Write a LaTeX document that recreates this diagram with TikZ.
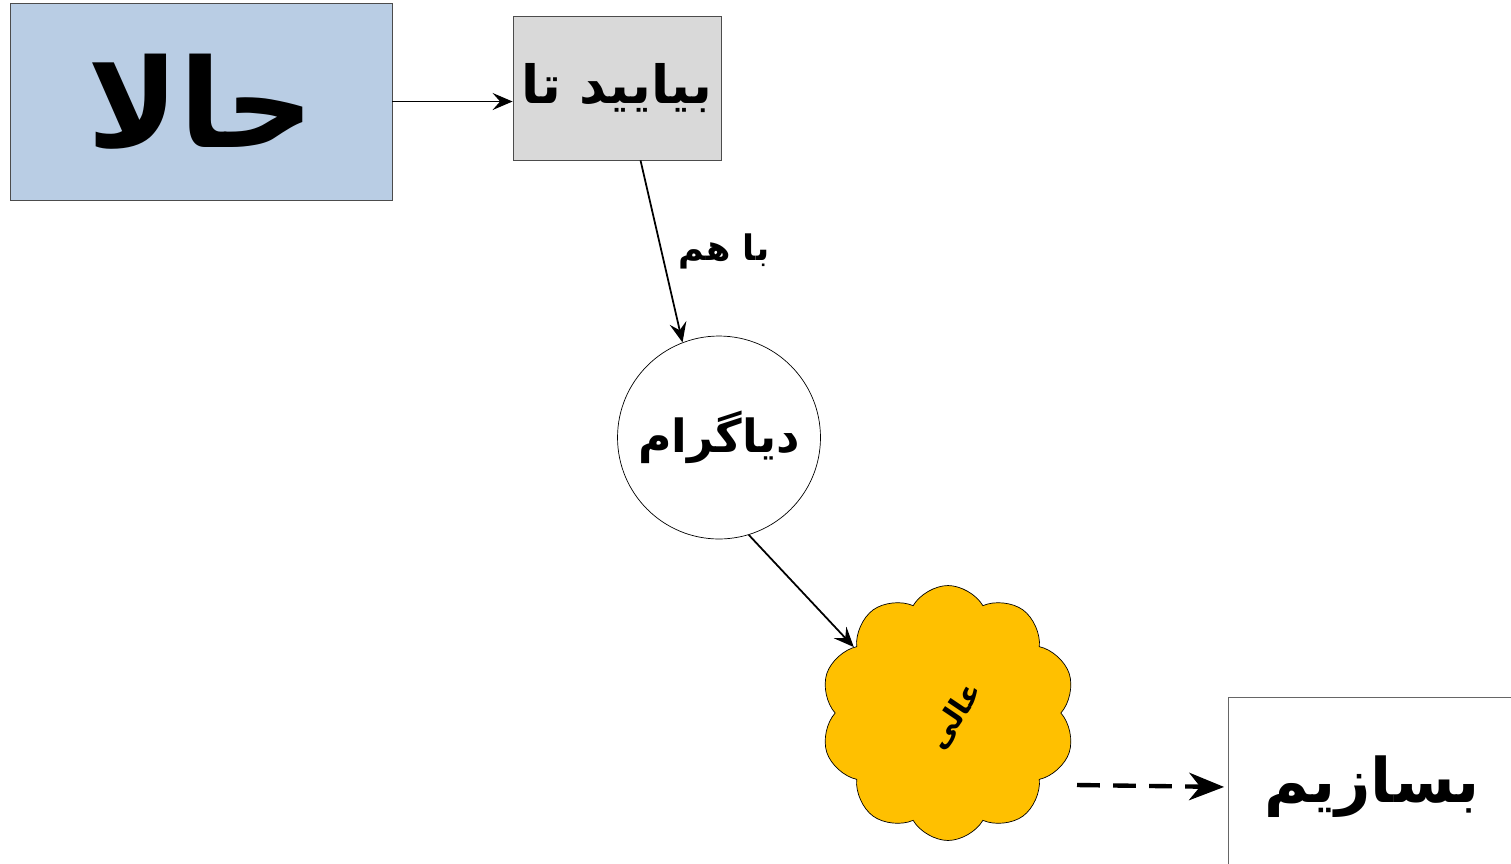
\documentclass[tikz,border=0pt]{standalone}
\usepackage{fontspec}
\newfontfamily\farsi[Script=Arabic]{DejaVu Sans}
\TeXXeTstate=1
\usetikzlibrary{arrows.meta,shapes.symbols}
\definecolor{boxblue}{RGB}{185,205,228}
\definecolor{boxgray}{RGB}{217,217,217}
\definecolor{cloudgold}{RGB}{255,192,0}
\newcommand{\fa}[1]{\fontsize{#1}{#1}\farsi\bfseries}

\begin{document}
\begin{tikzpicture}[x=0.02cm, y=-0.02cm,
  box/.style={draw=black!70, line width=0.5pt, inner sep=0pt},
  link/.style={-{Stealth[length=4mm, width=3.4mm, inset=1.5mm]}, line width=1pt}]
  \useasboundingbox (0,0) rectangle (1511,863);

  \node[box, fill=boxblue, minimum width=7.64cm, minimum height=3.94cm]
    (now) at (201,101.5) {\fa{70pt}\beginR حالا\endR};
  \node[box, fill=boxgray, minimum width=4.16cm, minimum height=2.88cm]
    (letus) at (617,88) {\fa{30pt}\beginR بیایید تا\endR};
  \node[draw, circle, line width=0.4pt, minimum size=4.06cm, inner sep=0pt]
    (diagram) at (719,437.5) {\fa{26pt}\beginR دیاگرام\endR};
  \node[draw, cloud, cloud puffs=10, cloud puff arc=120, aspect=1,
        fill=cloudgold, line width=0.4pt, minimum width=5.1cm, minimum height=5.1cm]
    (great) at (948,713) {};
  \node[rotate=56] (greattext) at (955,716) {\fa{17pt}\beginR عالی\endR};
  \node[box, draw=black!60, minimum width=5.76cm, minimum height=3.6cm]
    (build) at (1372,787) {\fa{35pt}\beginR بسازیم\endR};

  \draw[link] (now.east) -- (now.east -| letus.west);
  \draw[link] (letus.-72) -- node[right, xshift=6pt]
    (together) {\fa{20pt}\beginR با هم\endR} (diagram.111);
  \draw[link] (diagram.-73) -- (great.145);
  \coordinate (dashstart) at (1077,785);
  \draw[-{Stealth[length=7mm, width=5.5mm, inset=2.2mm]}, line width=2.5pt,
        dash pattern=on 13pt off 7.5pt, shorten >=2pt]
    (dashstart) -- (build.west);
\end{tikzpicture}
\end{document}
